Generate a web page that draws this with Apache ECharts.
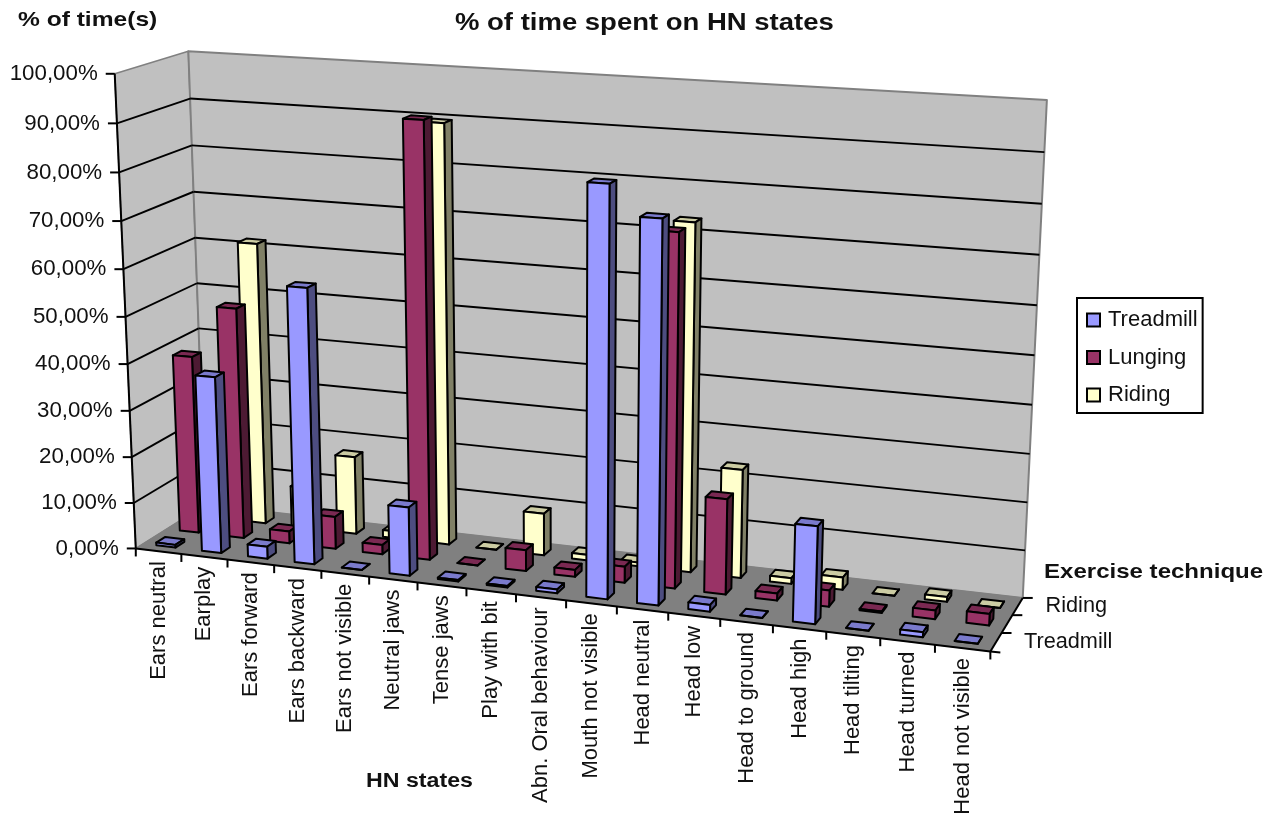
<!DOCTYPE html>
<html>
<head>
<meta charset="utf-8">
<style>html,body{margin:0;padding:0;background:#fff}#chart{width:1283px;height:816px}</style>
<script src="https://cdn.jsdelivr.net/npm/echarts@6/dist/echarts.min.js"></script>
</head>
<body>
<div id="chart"></div>
<script>
// HN state categories along the front edge of the floor
const categories = ['Ears neutral','Earplay','Ears forward','Ears backward','Ears not visible','Neutral jaws','Tense jaws','Play with bit','Abn. Oral behaviour','Mouth not visible','Head neutral','Head low','Head to ground','Head high','Head tilting','Head turned','Head not visible'];
// Percentage of time per exercise technique
const treadmill = [0.6,38,2.6,58.5,0,14.6,0.3,0.3,0.8,84,78,1.4,0,20,0,1,0];
const lunging = [38.7,50,2.6,7,2,92,0,4.5,1.5,3.4,73.2,20,1.5,3.4,0.3,1.8,2.4];
const riding = [0.5,61.5,9,17,1.5,89.6,0,9.1,1.2,0.8,73,23,1.2,2.6,0,1,0];
const valueTicks = [0,10,20,30,40,50,60,70,80,90,100];
const valueLabels = ['0,00%','10,00%','20,00%','30,00%','40,00%','50,00%','60,00%','70,00%','80,00%','90,00%','100,00%'];
const depthLabels = ['Treadmill','','Riding'];

const FONT = '"Liberation Sans", Arial, sans-serif';
const gridBox = {left:116, top:73, width:874, height:475};

// Anchor points of the 3D box: [u along categories, d into depth, h up the value axis] -> screen
const anchors = [
  [0,0,0,135,549],[1,0,0,990,651],[1,1,0,1023,598],[0,1,0,206,504],
  [0,0,1,116,73],[0,1,1,187,52],[1,1,1,1047,100],[9/17,0,0,566,601]
];

// Least-squares fit of a projective camera through the anchors
function fitCamera(points){
  const rows=[],rhs=[];
  points.forEach(([X,Y,Z,sx,sy])=>{
    const x=sx/1000,y=sy/1000;
    rows.push([X,Y,Z,1,0,0,0,0,-x*X,-x*Y,-x*Z]);rhs.push(x);
    rows.push([0,0,0,0,X,Y,Z,1,-y*X,-y*Y,-y*Z]);rhs.push(y);
  });
  const n=11,M=[];
  for(let i=0;i<n;i++){
    M.push([]);
    for(let j=0;j<n;j++){let s=0;rows.forEach(r=>{s+=r[i]*r[j];});M[i].push(s);}
    let b=0;rows.forEach((r,k)=>{b+=r[i]*rhs[k];});M[i].push(b);
  }
  for(let c=0;c<n;c++){
    let p=c;for(let r=c+1;r<n;r++)if(Math.abs(M[r][c])>Math.abs(M[p][c]))p=r;
    [M[c],M[p]]=[M[p],M[c]];
    for(let r=0;r<n;r++){
      if(r===c)continue;
      const f=M[r][c]/M[c][c];
      for(let k=c;k<=n;k++)M[r][k]-=f*M[c][k];
    }
  }
  return M.map((r,i)=>r[n]/r[i]);
}
const cam = fitCamera(anchors);
function project(u,d,h){
  const w=cam[8]*u+cam[9]*d+cam[10]*h+1;
  return [1000*(cam[0]*u+cam[1]*d+cam[2]*h+cam[3])/w,1000*(cam[4]*u+cam[5]*d+cam[6]*h+cam[7])/w];
}
const toU = px => (px-gridBox.left)/gridBox.width;
const toH = py => (gridBox.top+gridBox.height-py)/gridBox.height;

const poly=(points,fill,stroke,lw)=>({type:'polygon',shape:{points},style:{fill,stroke,lineWidth:lw,lineJoin:'round'}});
const seg=(a,b,stroke,lw)=>({type:'line',shape:{x1:a[0],y1:a[1],x2:b[0],y2:b[1]},style:{stroke,lineWidth:lw}});
const label=(text,x,y,align,rotation,size)=>({type:'text',x,y,rotation:rotation||0,style:{text,fill:'#111',font:(size||22.3)+'px '+FONT,align,verticalAlign:'middle'}});

// Walls, floor, gridlines, axes and their labels
function renderFrame(params,api){
  const kids=[];
  const band=toU(api.size([1,0])[0]+gridBox.left);
  const P=project;
  kids.push(poly([P(0,0,0),P(0,1,0),P(0,1,1),P(0,0,1)],'#C0C0C0','#808080',1.5));
  kids.push(poly([P(0,1,0),P(1,1,0),P(1,1,1),P(0,1,1)],'#C0C0C0','#808080',2));
  kids.push(poly([P(0,0,0),P(1,0,0),P(1,1,0),P(0,1,0)],'#808080','#808080',1));
  valueTicks.forEach((v,i)=>{
    const h=toH(api.coord([0,v])[1]);
    if(v>0&&v<100){
      kids.push(seg(P(0,0,h),P(0,1,h),'#000',1.9));
      kids.push(seg(P(0,1,h),P(1,1,h),'#000',1.9));
    }
    const a=P(0,0,h);
    kids.push(seg([a[0]-9,a[1]],a,'#000',2));
    kids.push(label(valueLabels[i],a[0]-17,a[1],'right'));
  });
  kids.push(seg(P(0,0,0),P(0,0,1),'#000',2));
  kids.push(seg(P(0,0,0),P(1,0,0),'#000',2));
  kids.push(seg(P(1,0,0),P(1,1,0),'#000',2));
  categories.forEach((name,i)=>{
    const c=api.coord([i,0])[0];
    const tick=P(toU(c)-band/2,0,0);
    kids.push(seg(tick,[tick[0],tick[1]+8],'#000',2));
    const m=P(toU(c),0,0);
    kids.push(label(name,m[0],m[1]+10,'right',Math.PI/2,22));
  });
  const end=P(1,0,0);
  kids.push(seg(end,[end[0],end[1]+8],'#000',2));
  [0,1,2,3].forEach(k=>{
    const t=P(1,k/3,0);
    kids.push(seg(t,[t[0]+10,t[1]+(k?0:1)],'#000',2));
  });
  depthLabels.forEach((name,k)=>{
    if(!name)return;
    const t=P(1,(k+0.5)/3,0);
    kids.push(label(name,t[0]+28,t[1],'left',0,21.7));
  });
  return {type:'group',children:kids};
}

// One row of boxes: front face, right face, top face
function barRenderer(row,faces){
  return function(params,api){
    const i=api.value(0),val=api.value(1);
    const c=toU(api.coord([i,0])[0]);
    const half=toU(api.size([1,0])[0]+gridBox.left)*0.21;
    const h=toH(api.coord([i,val])[1]);
    const u0=c-half,u1=c+half,d0=(row+0.31)/3,d1=(row+0.69)/3;
    const P=project;
    return {type:'group',children:[
      poly([P(u0,d0,h),P(u1,d0,h),P(u1,d1,h),P(u0,d1,h)],faces.top,'#000',2),
      poly([P(u1,d0,0),P(u1,d1,0),P(u1,d1,h),P(u1,d0,h)],faces.side,'#000',2),
      poly([P(u0,d0,0),P(u1,d0,0),P(u1,d0,h),P(u0,d0,h)],faces.front,'#000',2)
    ]};
  };
}
function barSeries(name,values,row,faces){
  return {
    type:'custom',name,z:5-row,
    coordinateSystem:'cartesian2d',
    encode:{x:0,y:1},
    itemStyle:{color:faces.front,borderColor:'#000',borderWidth:2},
    renderItem:barRenderer(row,faces),
    data:values.map((v,i)=>[i,v])
  };
}
const boldText=(text,x,y,size,scaleX)=>({type:'text',x,y,scaleX,style:{text,fill:'#111',font:'bold '+size+'px '+FONT,align:'left',verticalAlign:'middle'}});

const chart=echarts.init(document.getElementById('chart'),null,{renderer:'canvas'});
chart.setOption({
  animation:false,
  backgroundColor:'#fff',
  grid:Object.assign({containLabel:false},gridBox),
  xAxis:{type:'category',data:categories,show:false},
  yAxis:{type:'value',min:0,max:100,interval:10,show:false},
  legend:{
    orient:'vertical',left:1077,top:298,icon:'rect',
    data:['Treadmill','Lunging','Riding'],
    itemWidth:13,itemHeight:13,itemGap:15.5,itemStyle:{borderColor:'#000',borderWidth:2},
    padding:[11,5,7,9],borderColor:'#000',borderWidth:2,
    selectedMode:false,
    textStyle:{fontFamily:FONT,fontSize:22,color:'#111',padding:[0,0,0,3]}
  },
  graphic:[
    boldText('% of time spent on HN states',455,24,23,1.195),
    boldText('% of time(s)',18,20,21,1.17),
    boldText('HN states',366,781,20,1.16),
    boldText('Exercise technique',1044,572,21,1.145)
  ],
  series:[
    {type:'custom',name:'frame',z:0,coordinateSystem:'cartesian2d',encode:{x:0,y:1},renderItem:renderFrame,data:[[0,0]],silent:true},
    barSeries('Riding',riding,2,{front:'#FFFFCC',side:'#808066',top:'#CCCCA3'}),
    barSeries('Lunging',lunging,1,{front:'#993366',side:'#4D1A33',top:'#7A2952'}),
    barSeries('Treadmill',treadmill,0,{front:'#9999FF',side:'#4D4D80',top:'#7A7ACC'})
  ]
});
</script>
</body>
</html>
